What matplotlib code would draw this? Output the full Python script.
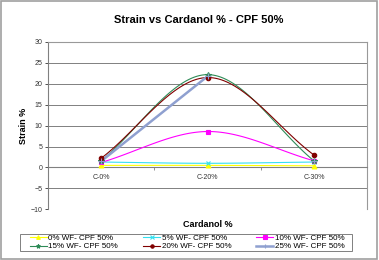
import matplotlib

matplotlib.use("Agg")
import matplotlib.pyplot as plt
import numpy as np

plt.rcParams["font.family"] = ["Liberation Sans", "DejaVu Sans"]

categories = ["C-0%", "C-20%", "C-30%"]
series_names = [
    "0% WF- CPF 50%",
    "5% WF- CPF 50%",
    "10% WF- CPF 50%",
    "15% WF- CPF 50%",
    "20% WF- CPF 50%",
    "25% WF- CPF 50%",
]
wf0 = [0.5, 0.5, 0.4]
wf5 = [1.3, 1.0, 1.3]
wf10 = [1.2, 8.6, 1.6]
wf15 = [1.6, 22.2, 1.6]
wf20 = [2.2, 21.5, 3.0]
wf25 = [1.5, 21.8, 1.6]
yticks = [-10, -5, 0, 5, 10, 15, 20, 25, 30]

# "points" = how many leading points the connecting line covers
styles = [
    dict(color="#FFFF00", marker="^", lw=0.8, ms=3.5, smooth=True, points=3),
    dict(color="#33E0F0", marker="x", lw=0.8, ms=3.5, smooth=True, points=3),
    dict(color="#FF00FF", marker="s", lw=0.8, ms=3.2, smooth=True, points=3),
    dict(color="#2E8B57", marker="*", lw=0.8, ms=4, smooth=True, points=3),
    dict(color="#800000", marker="o", lw=0.8, ms=3.2, smooth=True, points=3),
    dict(color="#8FA0D0", marker="+", lw=1.8, ms=4, smooth=False, points=2),
]


def smooth_curve(xs, ys, n=40):
    # Excel-like smoothed line: cubic Hermite through the points
    xs = np.asarray(xs, float)
    ys = np.asarray(ys, float)
    px = np.concatenate([[2 * xs[0] - xs[1]], xs, [2 * xs[-1] - xs[-2]]])
    py = np.concatenate([[2 * ys[0] - ys[1]], ys, [2 * ys[-1] - ys[-2]]])
    out_x, out_y = [], []
    t = np.linspace(0, 1, n)
    h00 = 2 * t**3 - 3 * t**2 + 1
    h10 = t**3 - 2 * t**2 + t
    h01 = -2 * t**3 + 3 * t**2
    h11 = t**3 - t**2
    for i in range(1, len(px) - 2):
        for p, out in ((px, out_x), (py, out_y)):
            p0, p1, p2, p3 = p[i - 1], p[i], p[i + 1], p[i + 2]
            m1 = (p2 - p0) / 2
            m2 = (p3 - p1) / 2
            out.extend(h00 * p1 + h10 * m1 + h01 * p2 + h11 * m2)
    return np.array(out_x), np.array(out_y)


fig = plt.figure(figsize=(3.79, 2.60), dpi=100)
ax = fig.add_axes([0.1266, 0.195, 0.842, 0.6435])

x = np.arange(len(categories))
all_series = [wf0, wf5, wf10, wf15, wf20, wf25]
handles = []
for name, vals, st in zip(series_names, all_series, styles):
    k = st["points"]
    if st["smooth"]:
        sx, sy = smooth_curve(x[:k], vals[:k])
    else:
        sx, sy = x[:k], vals[:k]
    ax.plot(sx, sy, color=st["color"], lw=st["lw"], zorder=3)
    ax.plot(x, vals, linestyle="none", marker=st["marker"], color=st["color"],
            ms=st["ms"], mew=0.8, zorder=4)
    h, = ax.plot([], [], color=st["color"], lw=st["lw"], marker=st["marker"],
                 ms=st["ms"], mew=0.8, label=name)
    handles.append(h)

ax.set_xlim(-0.5, 2.5)
ax.set_ylim(-10, 30)
ax.set_yticks(yticks)
ax.yaxis.grid(True, color="#808080", lw=0.7)
ax.set_axisbelow(True)
ax.tick_params(axis="y", labelsize=5, length=2.5, width=0.6, pad=1.5, colors="#333333")

# category axis crosses at zero
ax.spines["bottom"].set_position(("data", 0))
ax.spines["bottom"].set_color("#808080")
ax.spines["bottom"].set_linewidth(0.8)
ax.set_xticks([0.5, 1.5])
ax.set_xticklabels([])
ax.set_xticks(x, minor=True)
ax.set_xticklabels(categories, minor=True)
ax.tick_params(axis="x", which="major", length=2.5, width=0.6, colors="#808080")
ax.tick_params(axis="x", which="minor", length=0, labelsize=5, pad=5, labelcolor="#333333")
for side in ("top", "right", "left"):
    ax.spines[side].set_color("#999999")
    ax.spines[side].set_linewidth(0.8)
ax.spines["left"].set_color("#808080")

fig.text(0.525, 0.922, "Strain vs Cardanol % - CPF 50%", fontsize=8, fontweight="bold",
         ha="center", va="center")
ax.set_ylabel("Strain %", fontsize=6.5, fontweight="bold", labelpad=2)
fig.text(0.5475, 0.138, "Cardanol %", fontsize=6.5, fontweight="bold", ha="center", va="center")

# legend filled row by row like the original
order = [0, 3, 1, 4, 2, 5]
leg = fig.legend([handles[i] for i in order], [series_names[i] for i in order],
                 loc="center left", bbox_to_anchor=(0.079, 0.0673), ncol=3, fontsize=5.8,
                 frameon=False, borderpad=0, handlelength=2.1, handletextpad=0.2,
                 columnspacing=3.1, labelspacing=0.05, borderaxespad=0, markerscale=0.75)
fig.patches.append(plt.Rectangle((0.0528, 0.0346), 0.876, 0.0654, transform=fig.transFigure,
                                 fill=False, edgecolor="#808080", lw=0.7))

# outer chart border
fig.patches.append(plt.Rectangle((0.002, 0.004), 0.994, 0.992, transform=fig.transFigure,
                                 fill=False, edgecolor="#A0A0A0", lw=1.2))

fig.savefig("out.png", dpi=100)
